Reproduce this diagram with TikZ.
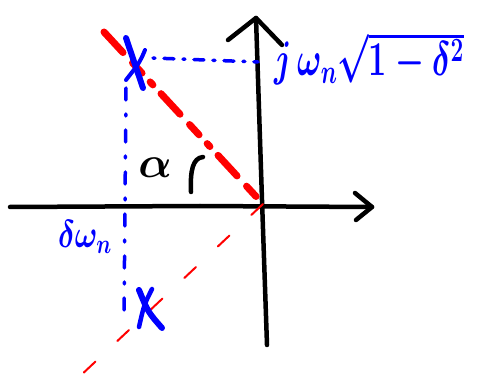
\RequirePackage{fix-cm}
\documentclass[tikz,border=0pt]{standalone}
\usepackage{amsmath}
\usepackage{graphicx}
\begin{document}
\begin{tikzpicture}[x=1pt,y=-1pt,line cap=round,line join=round]
\definecolor{pblue}{RGB}{0,0,255}
\definecolor{pred}{RGB}{255,0,0}
\tikzset{
  axis/.style={black,line width=4.5pt},
  thickred/.style={pred,line width=7pt,dash pattern=on 28pt off 14pt on 14pt off 12pt on 4pt off 12pt},
  thinred/.style={pred,line width=2pt,dash pattern=on 16pt off 30pt},
  bluedot/.style={pblue,line width=3.5pt,dash pattern=on 2pt off 9pt on 10pt off 9pt},
  bluestroke/.style={pblue,line width=6pt},
  bluelbl/.style={pblue,inner sep=0pt},
}
\useasboundingbox (0,0) rectangle (485,382);
% axes
\coordinate (xl) at (10,207);
\coordinate (xr) at (372,207);
\coordinate (yb) at (267,345);
\coordinate (yt) at (256,18);
\coordinate (o) at (263,204);
\draw[axis] (xl) -- (200,206) -- (xr);
\draw[axis] (yb) -- (262,200) -- (yt);
\draw[axis] (355,193) -- (xr) -- (356,220);
\draw[axis] (228,40) -- (yt) -- (282,45);
% red lines
\coordinate (p1) at (104,32);
\coordinate (p2) at (78,378);
\draw[thickred] (p1) -- (o);
\draw[thinred] (o) -- (p2);
% blue projection lines
\coordinate (h1) at (153,58);
\coordinate (h2) at (258,62);
\draw[bluedot] (h1) -- (h2);
\coordinate (v1) at (126,88);
\coordinate (v2) at (124,318);
\draw[bluedot,dash pattern=on 12pt off 14pt on 2pt off 14pt] (v1) -- (v2);
% poles
\draw[bluestroke] (126,38) -- (143,88);
\draw[pblue,line width=4pt] (145,50) .. controls (140,62) .. (126,80);
\draw[bluestroke] (139,290) .. controls (148,312) .. (162,328);
\draw[pblue,line width=4.5pt] (152,289) .. controls (144,305) .. (139,327);
% angle
\draw[black,line width=4.5pt] (203,157) .. controls (193,158) and (190,170) .. (191,192);
\node[inner sep=0pt] (alpha) at (155,168) {\fontsize{44}{48}\selectfont$\boldsymbol{\alpha}$};
% labels
\node[bluelbl,anchor=base west] (im) at (274,76) {\scalebox{0.9}[1.35]{\fontsize{36}{42}\selectfont$\boldsymbol{j\,\omega_n\sqrt{1-\delta^2}}$}};
\node[bluelbl] (re) at (85,237) {\scalebox{1}[1.3]{\fontsize{30}{36}\selectfont$\boldsymbol{\delta\omega_n}$}};
\end{tikzpicture}
\end{document}
